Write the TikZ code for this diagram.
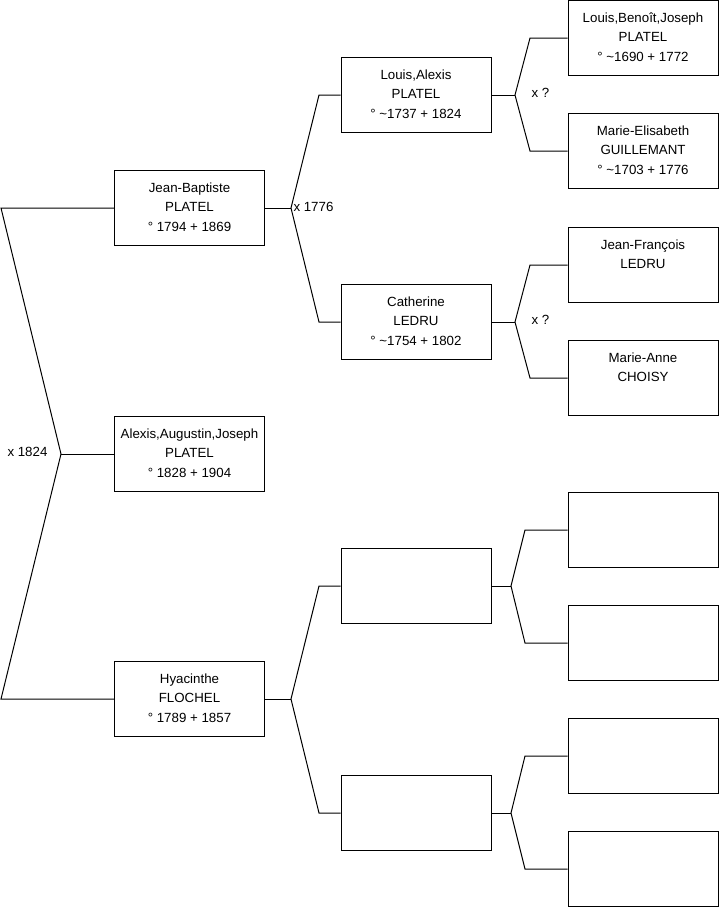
\documentclass[tikz,border=0pt]{standalone}
\usepackage{fontspec}
\setmainfont{Liberation Sans}
\newcommand{\tld}{\char"007E\relax}
\newcommand{\pp}[3]{\strut#1\\\strut#2\\\strut#3}
\begin{document}
\begin{tikzpicture}[x=1pt,y=-1pt,line width=1pt,
  person/.style={draw, minimum width=150pt, minimum height=75pt, inner sep=0pt, align=center,
    font=\fontsize{13.3}{19.3}\selectfont},
  lbl/.style={anchor=west, inner sep=0pt, font=\fontsize{13.3}{15}\selectfont},
  link/.style={line join=miter}]
\useasboundingbox (0,0) rectangle (719,908);
% level 1
\node[person] (jb) at (189.5,208) {\pp{Jean-Baptiste}{PLATEL}{° 1794 + 1869}};
\node[person] (aa) at (189.5,454) {\pp{Alexis,Augustin,Joseph}{PLATEL}{° 1828 + 1904}};
\node[person] (hy) at (189.5,699) {\pp{Hyacinthe}{FLOCHEL}{° 1789 + 1857}};
% level 2
\node[person] (la) at (416,95) {\pp{Louis,Alexis}{PLATEL}{° \tld1737 + 1824}};
\node[person] (ca) at (416,322) {\pp{Catherine}{LEDRU}{° \tld1754 + 1802}};
\node[person] (e1) at (416,586) {};
\node[person] (e2) at (416,813) {};
% level 3
\node[person] (lb) at (643,38) {\pp{Louis,Benoît,Joseph}{PLATEL}{° \tld1690 + 1772}};
\node[person] (me) at (643,151) {\pp{Marie-Elisabeth}{GUILLEMANT}{° \tld1703 + 1776}};
\node[person] (jf) at (643,265) {\pp{Jean-François}{LEDRU}{}};
\node[person] (ma) at (643,378) {\pp{Marie-Anne}{CHOISY}{}};
\node[person] (e3) at (643,530) {};
\node[person] (e4) at (643,643) {};
\node[person] (e5) at (643,756) {};
\node[person] (e6) at (643,869) {};
% fork points
\coordinate (k0a) at (1,208);
\coordinate (k0) at (61,454);
\coordinate (k0b) at (1,699);
\coordinate (f1) at (291,208); \coordinate (f1a) at (319,95);  \coordinate (f1b) at (319,322);
\coordinate (f2) at (291,699); \coordinate (f2a) at (319,586); \coordinate (f2b) at (319,813);
\coordinate (f3) at (515,95);  \coordinate (f3a) at (530,38);  \coordinate (f3b) at (530,151);
\coordinate (f4) at (515,322); \coordinate (f4a) at (530,265); \coordinate (f4b) at (530,378);
\coordinate (f5) at (511,586); \coordinate (f5a) at (525,530); \coordinate (f5b) at (525,643);
\coordinate (f6) at (511,813); \coordinate (f6a) at (525,756); \coordinate (f6b) at (525,869);
% connectors
\draw[link] (jb.west) -- (k0a) -- (k0) -- (k0b) -- (hy.west);
\draw[link] (k0) -- (aa.west);
\draw[link] (la.west) -- (f1a) -- (f1) -- (f1b) -- (ca.west);
\draw[link] (jb.east) -- (f1);
\draw[link] (e1.west) -- (f2a) -- (f2) -- (f2b) -- (e2.west);
\draw[link] (hy.east) -- (f2);
\draw[link] (lb.west) -- (f3a) -- (f3) -- (f3b) -- (me.west);
\draw[link] (la.east) -- (f3);
\draw[link] (jf.west) -- (f4a) -- (f4) -- (f4b) -- (ma.west);
\draw[link] (ca.east) -- (f4);
\draw[link] (e3.west) -- (f5a) -- (f5) -- (f5b) -- (e4.west);
\draw[link] (e1.east) -- (f5);
\draw[link] (e5.west) -- (f6a) -- (f6) -- (f6b) -- (e6.west);
\draw[link] (e2.east) -- (f6);
% marriage labels
\node[lbl] (m0) at (7,452) {x 1824};
\node[lbl] (m1) at (293,207) {x 1776};
\node[lbl] (m2) at (531,93) {x ?};
\node[lbl] (m3) at (531,320) {x ?};
\end{tikzpicture}
\end{document}
